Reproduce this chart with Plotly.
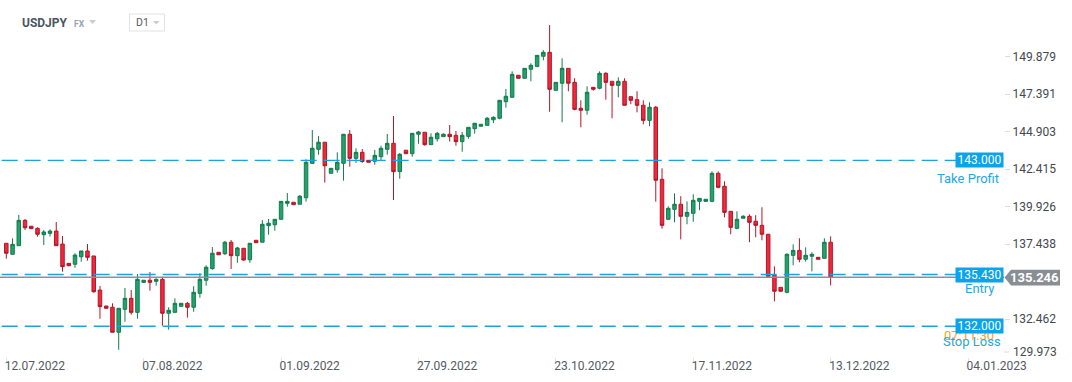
import plotly.graph_objects as go

# ---------------- data ----------------
symbol = "USDJPY"
open_ = [137.50, 136.77, 137.34, 139.02, 138.63, 138.49, 138.07, 138.16, 138.31, 137.45,
         136.17, 136.11, 136.61, 136.99, 136.66, 134.40, 133.34, 133.26, 131.60, 133.12,
         133.85, 132.92, 134.91, 135.05, 134.98, 135.11, 132.86, 132.92, 133.32, 133.52,
         133.26, 134.18, 135.05, 135.82, 136.90, 136.81, 137.57, 136.68, 137.17, 136.41,
         137.70, 137.57, 138.67, 138.73, 139.09, 140.15, 140.22, 140.09, 140.52, 142.80,
         143.73, 144.20, 142.14, 142.38, 142.80, 144.73, 143.13, 143.53, 143.00, 142.94,
         143.24, 143.73, 144.13, 142.25, 143.67, 143.44, 144.73, 144.86, 144.04, 144.43,
         144.57, 144.73, 144.66, 144.24, 144.59, 145.10, 145.26, 145.32, 145.69, 145.79,
         146.89, 147.18, 148.64, 148.44, 149.04, 149.23, 149.90, 150.16, 147.64, 148.11,
         149.10, 148.17, 146.45, 146.32, 147.84, 147.78, 148.77, 148.24, 147.97, 148.24,
         147.22, 147.02, 146.65, 145.65, 146.52, 141.74, 139.09, 139.75, 140.09, 139.29,
         139.49, 140.28, 140.28, 140.28, 142.14, 141.28, 139.62, 138.49, 139.16, 139.29,
         138.96, 138.69, 138.10, 135.38, 134.58, 134.25, 136.70, 137.03, 136.44, 136.64,
         136.57, 136.50, 137.57]
high = [137.50, 137.83, 139.38, 139.11, 138.65, 138.56, 138.38, 138.43, 138.91, 137.98,
        136.19, 136.84, 136.99, 137.45, 136.66, 134.67, 133.36, 133.52, 133.19, 134.54,
        134.40, 135.46, 135.07, 135.60, 135.18, 135.28, 133.26, 133.85, 133.52, 133.61,
        134.65, 135.51, 136.04, 137.25, 136.90, 137.65, 137.72, 137.27, 137.17, 137.50,
        137.70, 139.04, 139.11, 139.09, 140.28, 140.83, 140.22, 140.70, 143.07, 145.01,
        144.61, 144.20, 142.47, 143.53, 144.73, 145.01, 143.80, 143.75, 143.00, 143.69,
        143.97, 144.75, 145.94, 143.49, 143.67, 144.79, 144.95, 144.86, 144.79, 144.88,
        144.79, 145.34, 144.95, 144.88, 145.19, 145.46, 145.39, 145.87, 145.92, 146.98,
        147.73, 148.90, 148.64, 149.10, 149.43, 149.96, 150.30, 151.97, 148.17, 149.76,
        149.10, 148.44, 146.98, 147.91, 147.84, 148.90, 148.84, 148.24, 148.50, 148.44,
        147.22, 147.58, 146.98, 146.85, 146.60, 142.47, 139.95, 140.81, 140.62, 140.28,
        140.75, 140.48, 140.42, 142.27, 142.27, 141.61, 139.62, 139.62, 139.36, 139.42,
        139.36, 139.89, 138.10, 135.97, 134.58, 136.84, 137.43, 137.83, 137.23, 136.90,
        136.57, 137.83, 137.96]
low = [136.48, 136.77, 137.34, 138.38, 138.45, 137.94, 137.39, 137.94, 137.34, 135.62,
       135.99, 135.88, 136.28, 136.35, 134.22, 132.50, 133.19, 131.60, 130.44, 132.30,
       132.77, 132.50, 134.87, 134.36, 134.69, 132.04, 131.77, 132.92, 133.32, 132.57,
       132.96, 133.89, 134.69, 135.75, 136.74, 136.72, 135.80, 136.21, 136.35, 136.21,
       137.54, 137.57, 138.07, 138.33, 139.09, 139.93, 140.06, 140.09, 140.26, 142.80,
       143.37, 141.52, 142.14, 142.18, 141.65, 142.58, 142.84, 142.84, 142.87, 142.71,
       143.02, 143.37, 140.37, 141.78, 143.44, 143.24, 144.10, 143.97, 144.04, 144.24,
       144.57, 144.24, 143.97, 143.57, 144.43, 144.77, 145.26, 145.32, 145.47, 145.72,
       146.49, 147.18, 148.44, 148.44, 148.24, 149.17, 149.63, 146.22, 147.64, 145.52,
       147.58, 146.32, 145.19, 146.03, 147.62, 147.71, 147.02, 145.79, 147.18, 146.65,
       146.72, 146.18, 145.39, 145.26, 140.26, 138.47, 139.09, 138.89, 137.76, 138.76,
       138.93, 139.69, 140.28, 140.22, 141.15, 139.22, 138.10, 138.43, 139.16, 137.57,
       137.90, 137.70, 135.31, 133.65, 134.32, 134.18, 136.04, 136.24, 136.28, 135.64,
       136.44, 136.50, 134.71]
close = [136.84, 137.43, 139.02, 138.53, 138.47, 138.10, 138.25, 138.31, 137.34, 135.95,
         136.01, 136.72, 136.99, 136.57, 134.29, 133.30, 133.19, 131.60, 133.19, 133.85,
         132.92, 135.11, 135.05, 134.91, 135.11, 132.86, 133.06, 133.52, 133.52, 133.26,
         134.25, 135.11, 135.91, 136.84, 136.74, 137.57, 136.68, 137.19, 136.39, 137.50,
         137.54, 138.76, 138.83, 139.09, 140.28, 140.28, 140.06, 140.62, 142.87, 143.80,
         144.20, 142.64, 142.47, 142.87, 144.73, 143.13, 143.53, 142.92, 142.87, 143.33,
         143.80, 144.13, 142.25, 143.40, 143.44, 144.79, 144.88, 144.04, 144.53, 144.79,
         144.73, 144.57, 144.24, 144.66, 145.19, 145.46, 145.39, 145.79, 145.85, 146.98,
         147.25, 148.70, 148.44, 149.10, 149.30, 149.96, 150.16, 147.71, 148.17, 149.10,
         148.11, 146.38, 146.32, 147.51, 147.71, 148.77, 148.17, 147.97, 148.24, 146.65,
         146.98, 146.65, 145.65, 146.52, 141.68, 138.69, 139.82, 140.09, 139.29, 139.55,
         140.35, 140.48, 140.42, 142.14, 141.21, 139.55, 138.56, 139.09, 139.29, 138.89,
         138.69, 138.10, 135.31, 134.32, 134.32, 136.77, 137.03, 136.44, 136.70, 136.77,
         136.44, 137.57, 135.246]

date_labels = ["12.07.2022", "07.08.2022", "01.09.2022", "27.09.2022",
               "23.10.2022", "17.11.2022", "13.12.2022", "04.01.2023"]
date_label_bars = [0, 22, 44, 66, 88, 110, 132, 154]   # bar index of each date label
price_ticks = [132.462, 137.438, 139.926, 142.415, 144.903, 147.391, 149.879]
bottom_price_tick = 129.973   # drawn pinned just inside the bottom edge, as in the reference

take_profit = 143.000
entry = 135.430
stop_loss = 132.000
last_price = 135.246
countdown = "07:11:30"

# ---------------- layout geometry ----------------
PW, PH = 1004.0, 357.0          # plot area size in px
X_RANGE = [-1.009, 159.76]
Y_RANGE = [153.63 - PH * 0.0663, 153.63]


def px(x):
    return x / PW


def py(y):
    return 1 - y / PH


FONT = "Roboto, 'Open Sans', Arial, sans-serif"
BLUE = "#1da1e6"
BOX_BLUE = "#0ba3ea"

fig = go.Figure()
fig.add_trace(go.Candlestick(
    x=list(range(len(close))), open=open_, high=high, low=low, close=close,
    increasing=dict(fillcolor="#21a36d", line=dict(color="#147a4c", width=1)),
    decreasing=dict(fillcolor="#f2293c", line=dict(color="#b01728", width=1)),
    whiskerwidth=0, hoverinfo="skip", showlegend=False,
))

shapes = []
for lvl in (take_profit, entry, stop_loss):
    shapes.append(dict(type="line", xref="paper", yref="y",
                       x0=px(1.7), x1=px(957), y0=lvl, y1=lvl,
                       line=dict(color=BLUE, width=1.3, dash="16px,7px"), layer="above"))
shapes.append(dict(type="line", xref="paper", yref="y", x0=0, x1=1, y0=last_price, y1=last_price,
                   line=dict(color="#8c9195", width=1.5), layer="above"))
# header decorations
shapes.append(dict(type="path", xref="paper", yref="paper",
                   path=f"M {px(89)} {py(20)} L {px(96)} {py(20)} L {px(92.5)} {py(24)} Z",
                   fillcolor="#c8cdd2", line=dict(width=0)))
shapes.append(dict(type="rect", xref="paper", yref="paper",
                   x0=px(129.5), x1=px(164.5), y0=py(14), y1=py(31),
                   fillcolor="white", line=dict(color="#dfe3e7", width=1)))
shapes.append(dict(type="path", xref="paper", yref="paper",
                   path=f"M {px(153)} {py(21)} L {px(159.5)} {py(21)} L {px(156.2)} {py(24.5)} Z",
                   fillcolor="#c8cdd2", line=dict(width=0)))
# small tick mark for the pinned bottom price label
shapes.append(dict(type="line", xref="paper", yref="paper", x0=px(1004), x1=px(1009),
                   y0=py(352), y1=py(352), line=dict(color="#dcdcdc", width=1)))
# current price tag
ly = 277.6
shapes.append(dict(type="path", xref="paper", yref="paper",
                   path=(f"M {px(1004.5)} {py(ly)} L {px(1011)} {py(ly-7.8)} L {px(1060)} {py(ly-7.8)} "
                         f"L {px(1060)} {py(ly+7.8)} L {px(1011)} {py(ly+7.8)} Z"),
                   fillcolor="#888e93", line=dict(width=0), layer="above"))

ann = []
ann.append(dict(x=px(20), y=py(23.5), xref="paper", yref="paper", xanchor="left", yanchor="middle",
                text="<b>" + symbol + "</b>", showarrow=False,
                font=dict(family=FONT, size=12, color="#4b5560")))
ann.append(dict(x=px(71.5), y=py(24), xref="paper", yref="paper", xanchor="left", yanchor="middle",
                text="<b>FX</b>", showarrow=False, font=dict(family=FONT, size=8.5, color="#93a3b0")))
ann.append(dict(x=px(134), y=py(23), xref="paper", yref="paper", xanchor="left", yanchor="middle",
                text="D1", showarrow=False, font=dict(family=FONT, size=10.5, color="#555b61")))
ann.append(dict(x=px(1010.5), y=py(352), xref="paper", yref="paper", xanchor="left", yanchor="middle",
                text=f"{bottom_price_tick:.3f}", showarrow=False,
                font=dict(family=FONT, size=12, color="#45494d")))

# level captions
ann.append(dict(x=px(1001), y=py(178.3), xref="paper", yref="paper", xanchor="right", yanchor="middle",
                text="Take Profit", showarrow=False, font=dict(family=FONT, size=13, color="#27a6e3")))
ann.append(dict(x=px(997), y=py(288.7), xref="paper", yref="paper", xanchor="right", yanchor="middle",
                text="Entry", showarrow=False, font=dict(family=FONT, size=13, color="#27a6e3")))
ann.append(dict(x=px(995.5), y=py(335.5), xref="paper", yref="paper", xanchor="right", yanchor="middle",
                text=countdown, showarrow=False, font=dict(family=FONT, size=13, color="#f5a623")))
ann.append(dict(x=px(1003), y=py(341.5), xref="paper", yref="paper", xanchor="right", yanchor="middle",
                text="Stop Loss", showarrow=False, font=dict(family=FONT, size=13, color="#27a6e3")))

for lvl in (take_profit, entry, stop_loss):
    ann.append(dict(x=px(1004), y=lvl, xref="paper", yref="y", xanchor="right", yanchor="middle",
                    text=f"{lvl:.3f}", showarrow=False, bgcolor=BOX_BLUE, borderpad=1,
                    width=45, height=12, align="center",
                    font=dict(family=FONT, size=12, color="white")))
ann.append(dict(x=px(1034.5), y=py(ly), xref="paper", yref="paper", xanchor="center", yanchor="middle",
                text=f"<b>{last_price:.3f}</b>", showarrow=False,
                font=dict(family=FONT, size=13, color="white")))

fig.update_layout(
    width=1072, height=382,
    margin=dict(l=0, r=1072 - PW, t=0, b=382 - PH),
    paper_bgcolor="white", plot_bgcolor="white",
    font=dict(family=FONT),
    showlegend=False, hovermode=False,
    boxgap=0.2,
    shapes=shapes, annotations=ann,
    xaxis=dict(range=X_RANGE, rangeslider=dict(visible=False), showgrid=False, zeroline=False,
               showline=False, tickmode="array", tickvals=date_label_bars, ticktext=date_labels,
               ticks="outside", ticklen=5, tickcolor="#e2e2e2", tickwidth=1,
               ticklabelposition="outside right", ticklabelshift=-2, ticklabelstandoff=-2,
               tickfont=dict(family=FONT, size=12, color="#555a5f")),
    yaxis=dict(range=Y_RANGE, side="right", showgrid=False, zeroline=False, showline=False,
               tickmode="array", tickvals=price_ticks, ticktext=[f"{v:.3f}" for v in price_ticks],
               ticks="outside", ticklen=5, tickcolor="#dcdcdc", tickwidth=1,
               tickfont=dict(family=FONT, size=12, color="#45494d")),
)

fig.write_html("out.html", config={"displayModeBar": False},
               post_script="document.body.style.margin='0';document.body.style.overflow='hidden';")
